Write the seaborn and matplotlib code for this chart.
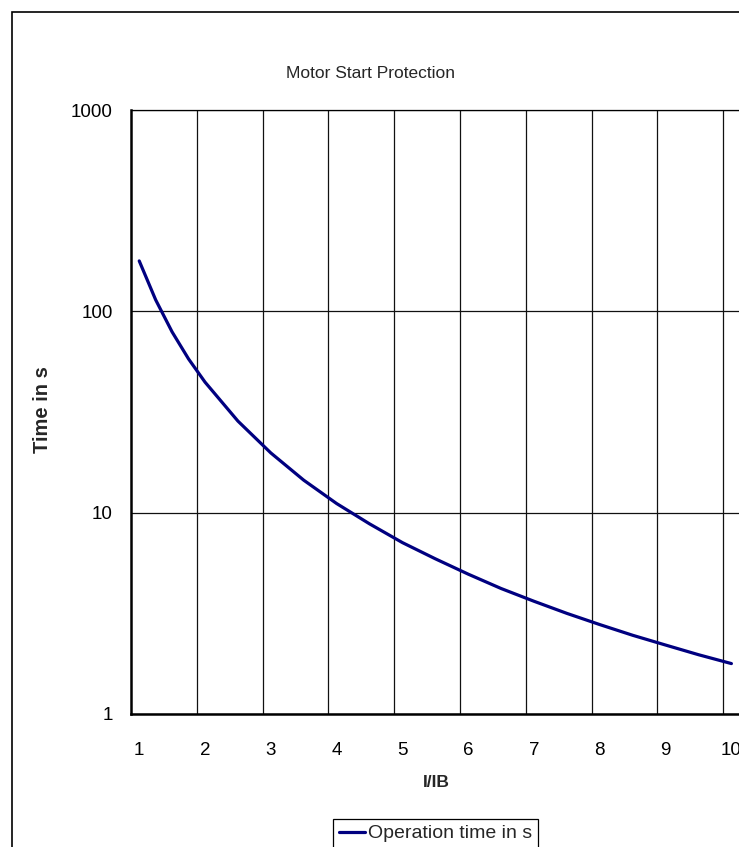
import numpy as np
import pandas as pd
import matplotlib
matplotlib.use("Agg")
import matplotlib.pyplot as plt
from matplotlib.patches import Rectangle
from matplotlib.ticker import FixedLocator, FixedFormatter, NullLocator
import seaborn as sns

# Operating characteristic: multiple of base current vs. trip time
current_ratio = [1.0, 1.25, 1.5, 1.75, 2.0, 2.5, 3.0, 3.5, 4.0, 4.5, 5.0,
                 5.5, 6.0, 6.5, 7.0, 7.5, 8.0, 8.5, 9.0, 9.5, 10.0]
operation_time = [178, 114, 79, 58, 44.5, 28.5, 19.8, 14.5, 11.1, 8.8, 7.1,
                  5.9, 4.95, 4.2, 3.63, 3.16, 2.78, 2.46, 2.2, 1.97, 1.78]
x_ticks = [1, 2, 3, 4, 5, 6, 7, 8, 9, 10]
y_ticks = [1, 10, 100, 1000]
y_tick_labels = ["1", "10", "100", "1000"]
series_name = "Operation time in s"

df = pd.DataFrame({"I/IB": current_ratio, series_name: operation_time})

sns.set_style("white")
plt.rcParams["font.family"] = ["Liberation Sans", "DejaVu Sans"]

W, H = 739, 847
fig = plt.figure(figsize=(W / 100, H / 100), dpi=100)
fig.patch.set_facecolor("white")

# plot area runs off the right edge of the canvas
ax = fig.add_axes([131 / W, 1 - 714 / H, 614 / W, 604 / H])

sns.lineplot(data=df, x="I/IB", y=series_name, ax=ax, color="#000080",
             linewidth=2.3, label=series_name, legend=False)

ax.set_yscale("log")
ax.set_ylim(1, 1000)
ax.set_xlim(0.875, 0.875 + 614 / 65.8)

ax.yaxis.set_major_locator(FixedLocator(y_ticks))
ax.yaxis.set_major_formatter(FixedFormatter(y_tick_labels))
ax.yaxis.set_minor_locator(NullLocator())
ax.xaxis.set_major_locator(FixedLocator(x_ticks))
ax.xaxis.set_major_formatter(FixedFormatter([str(v) for v in x_ticks]))
# category boundaries sit just left of each label
ax.xaxis.set_minor_locator(FixedLocator([v - 0.125 for v in x_ticks[1:]]))

ax.grid(False)
ax.grid(True, which="minor", axis="x", color="#111111", linewidth=0.9)
ax.grid(True, which="major", axis="y", color="#111111", linewidth=0.9)

ax.tick_params(axis="both", which="both", length=0, labelsize=13.5,
               colors="black")
ax.tick_params(axis="x", pad=20)
ax.tick_params(axis="y", pad=13)

for side in ("left", "bottom"):
    ax.spines[side].set_linewidth(1.8)
    ax.spines[side].set_color("black")
ax.spines["top"].set_linewidth(0.9)
ax.spines["top"].set_color("black")
ax.spines["right"].set_visible(False)

ax.set_xlabel("")
ax.set_ylabel("")

fig.text(370 / W, 1 - 73 / H, "Motor Start Protection", ha="center",
         va="center", fontsize=12.5)
fig.text(436 / W, 1 - 782 / H, "I/IB", ha="center", va="center",
         fontsize=12.5, fontweight="bold")
fig.text(42 / W, 1 - 410 / H, "Time in s", ha="center", va="center",
         rotation=90, fontsize=14.5, fontweight="bold")

# chart-area border
fig.add_artist(Rectangle((12 / W, -0.1), 1.2, 1 - 12 / H + 0.1,
                         transform=fig.transFigure, fill=False,
                         edgecolor="black", linewidth=1.2))

handles, labels = ax.get_legend_handles_labels()
leg = ax.legend(handles, labels, loc="upper center",
                bbox_to_anchor=(435.5 / W, 1 - 819 / H),
                bbox_transform=fig.transFigure, frameon=True, fancybox=False,
                edgecolor="black", framealpha=1, borderpad=0.3,
                handlelength=1.35, handletextpad=0.15, borderaxespad=0,
                fontsize=14)
leg.get_frame().set_linewidth(0.9)

fig.savefig("out.png", dpi=100)
